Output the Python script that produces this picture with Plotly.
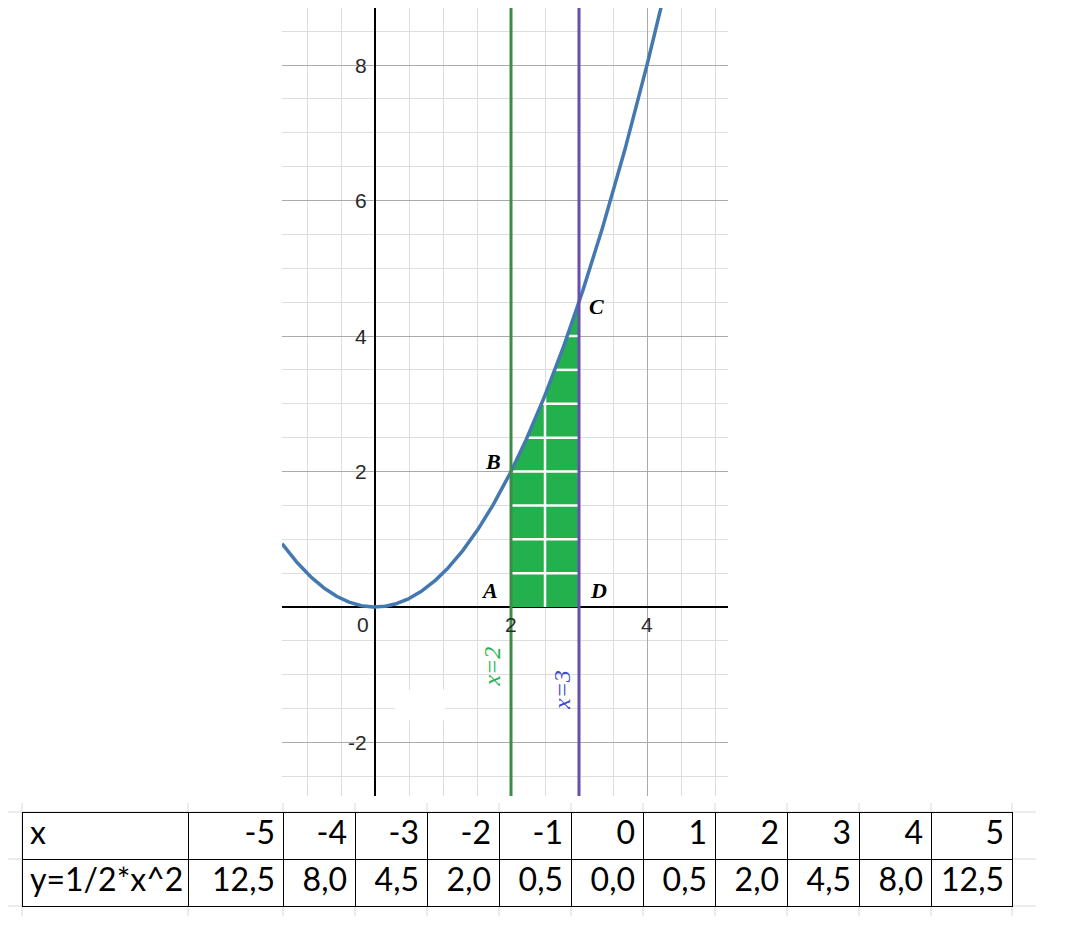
import numpy as np
import plotly.graph_objects as go

# ---------------- data ----------------
table_x = [-5, -4, -3, -2, -1, 0, 1, 2, 3, 4, 5]
table_y = [12.5, 8.0, 4.5, 2.0, 0.5, 0.0, 0.5, 2.0, 4.5, 8.0, 12.5]
row_labels = ["x", "y=1/2*x^2"]
coef = 0.5                      # y = 1/2 * x^2 (from the table title)
line_left = 2                   # x = 2
line_right = 3                  # x = 3
y_tick_vals = [8, 6, 4, 2, -2]
x_tick_vals = [0, 2, 4]
point_labels = ["A", "B", "C", "D"]

# ---------------- geometry ----------------
OFF = 8                          # page body margin
W, H = 1070 - OFF, 934 - OFF
px = lambda p: (p - OFF) / W
py = lambda p: 1 - (p - OFF) / H

X_RANGE = [-93 / 68, 353 / 68]
Y_RANGE = [-189 / 67.75, (607 - OFF) / 67.75]

fig = go.Figure()

# shaded region under the curve between x=2 and x=3
xs_fill = np.linspace(line_left, line_right, 60)
fx = [line_left] + list(xs_fill) + [line_right]
fy = [0] + list(coef * xs_fill ** 2) + [0]
fig.add_trace(go.Scatter(x=fx, y=fy, mode="lines", fill="toself",
                         fillcolor="#22b14c", line=dict(width=0),
                         hoverinfo="skip", showlegend=False))

# white grid inside the shaded region
step = 0.5
wx, wy = [], []
mid = (line_left + line_right) / 2
wx += [mid, mid, None]
wy += [0, coef * mid ** 2, None]
yy = step
while yy < coef * line_right ** 2 - 0.2:
    xl = max(line_left, np.sqrt(yy / coef))
    wx += [xl, line_right, None]
    wy += [yy, yy, None]
    yy += step
fig.add_trace(go.Scatter(x=wx, y=wy, mode="lines",
                         line=dict(color="white", width=2.5),
                         hoverinfo="skip", showlegend=False))

# parabola
xs = np.linspace(X_RANGE[0], np.sqrt(Y_RANGE[1] / coef) + 0.05, 400)
fig.add_trace(go.Scatter(x=xs, y=coef * xs ** 2, mode="lines",
                         line=dict(color="#4479b0", width=3.5),
                         hoverinfo="skip", showlegend=False))

# vertical lines x=2 and x=3
fig.add_trace(go.Scatter(x=[line_left, line_left], y=Y_RANGE, mode="lines",
                         line=dict(color="#3d8c48", width=3),
                         hoverinfo="skip", showlegend=False))
fig.add_trace(go.Scatter(x=[line_right, line_right], y=Y_RANGE, mode="lines",
                         line=dict(color="#6a4cae", width=3),
                         hoverinfo="skip", showlegend=False))

# table
fmt = lambda v: f"{v:.1f}".replace(".", ",")
col_widths = [166, 95] + [72] * 9 + [81]
tfont = dict(family="Lato", size=32, color="black")
fig.add_trace(go.Table(
    domain=dict(x=[px(22), px(1012)], y=[0, py(812)]),
    columnwidth=col_widths,
    header=dict(values=[row_labels[0]] + [str(v) for v in table_x],
                align=["left"] + ["right"] * len(table_x),
                fill_color="white", line=dict(color="black", width=1),
                font=tfont, height=47),
    cells=dict(values=[[row_labels[1]]] + [[fmt(v)] for v in table_y],
               align=["left"] + ["right"] * len(table_y),
               fill_color="white", line=dict(color="black", width=1),
               font=tfont, height=47),
))

annotations = []
tick_font = dict(family="Liberation Sans", size=21, color="#2a2a2a")
for v in y_tick_vals:
    annotations.append(dict(x=-0.09, y=v, xref="x", yref="y", text=str(v),
                            showarrow=False, xanchor="right", yanchor="middle",
                            font=tick_font))
for v in x_tick_vals:
    annotations.append(dict(x=v - (0.17 if v == 0 else 0), y=-0.26, xref="x", yref="y",
                            text=str(v), showarrow=False, xanchor="center",
                            yanchor="middle", font=tick_font))

lab_font = dict(family="Liberation Serif", size=22, color="black")
label_pos = {"A": (1.69, 0.25), "B": (1.735, 2.155), "C": (3.26, 4.43), "D": (3.28, 0.25)}
for name in point_labels:
    lx, ly = label_pos[name]
    annotations.append(dict(x=lx, y=ly, xref="x", yref="y",
                            text=f"<b><i>{name}</i></b>", showarrow=False,
                            font=lab_font))
annotations.append(dict(x=1.72, y=-0.88, xref="x", yref="y", text="<i>x=2</i>",
                        textangle=-90, showarrow=False,
                        font=dict(family="Liberation Serif", size=24, color="#22b14c")))
annotations.append(dict(x=2.76, y=-1.23, xref="x", yref="y", text="<i>x=3</i>",
                        textangle=-90, showarrow=False,
                        font=dict(family="Liberation Serif", size=24, color="#3f48cc")))

shapes = [dict(type="rect", xref="x", yref="y", x0=0.29, x1=1.03, y0=-1.67, y1=-1.22,
               fillcolor="white", line=dict(width=0), layer="above")]
# faint spreadsheet gridlines around the table
gl = "#d9d9d9"
for yb in [812, 859, 906]:
    shapes.append(dict(type="line", xref="paper", yref="paper",
                       x0=px(8), x1=px(1036), y0=py(yb), y1=py(yb),
                       line=dict(color=gl, width=1), layer="below"))
xb = 22
for w in [0] + col_widths:
    xb += w
    shapes.append(dict(type="line", xref="paper", yref="paper",
                       x0=px(xb), x1=px(xb), y0=py(803), y1=py(916),
                       line=dict(color=gl, width=1), layer="below"))

fig.update_layout(
    width=W, height=H, margin=dict(l=0, r=0, t=0, b=0),
    paper_bgcolor="white", plot_bgcolor="white",
    showlegend=False, annotations=annotations, shapes=shapes,
    xaxis=dict(domain=[px(282), px(728)], range=X_RANGE, dtick=2, tick0=0,
               showgrid=True, gridcolor="#aaaaaa", gridwidth=1,
               minor=dict(dtick=0.5, tick0=0, showgrid=True, gridcolor="#dedede", gridwidth=1),
               zeroline=True, zerolinecolor="black", zerolinewidth=2,
               showticklabels=False, ticks="", showline=False, fixedrange=True),
    yaxis=dict(domain=[py(796), 1], range=Y_RANGE, dtick=2, tick0=0,
               showgrid=True, gridcolor="#aaaaaa", gridwidth=1,
               minor=dict(dtick=0.5, tick0=0, showgrid=True, gridcolor="#dedede", gridwidth=1),
               zeroline=True, zerolinecolor="black", zerolinewidth=2,
               showticklabels=False, ticks="", showline=False, fixedrange=True),
)

fig.write_html("out.html")
